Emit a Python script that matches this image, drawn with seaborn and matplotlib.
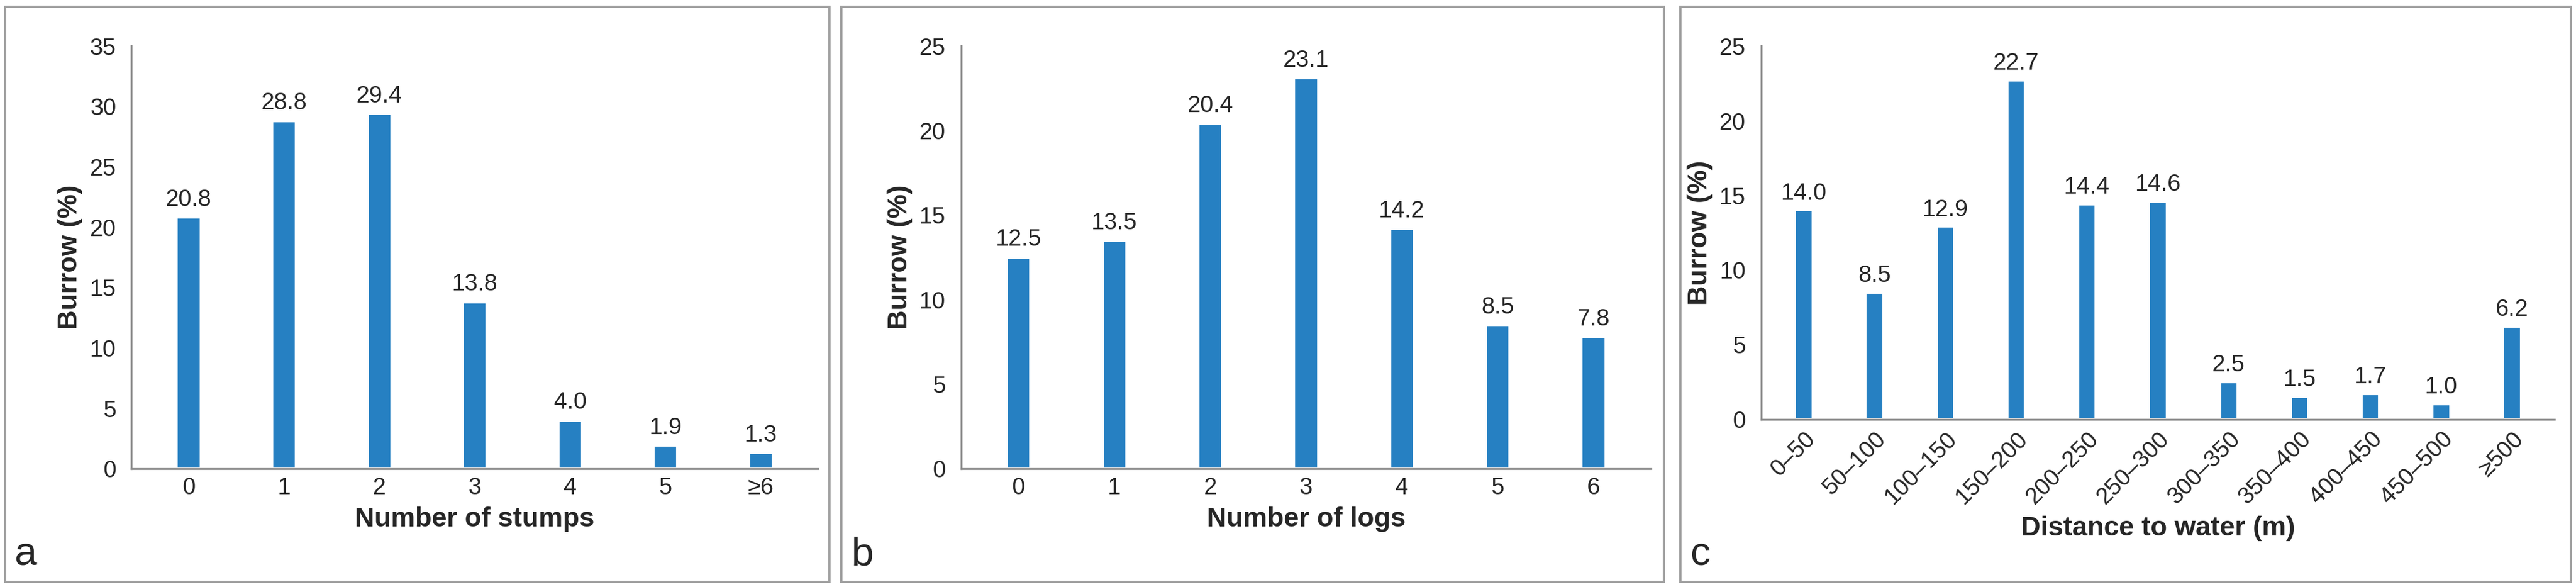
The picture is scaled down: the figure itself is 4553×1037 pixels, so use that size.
import matplotlib
matplotlib.use("Agg")
import matplotlib.pyplot as plt
from matplotlib.patches import Rectangle
import seaborn as sns
import pandas as pd

stumps_labels = ['0', '1', '2', '3', '4', '5', '≥6']
stumps_values = [20.8, 28.8, 29.4, 13.8, 4.0, 1.9, 1.3]

logs_labels = ['0', '1', '2', '3', '4', '5', '6']
logs_values = [12.5, 13.5, 20.4, 23.1, 14.2, 8.5, 7.8]

water_labels = ['0–50', '50–100', '100–150', '150–200', '200–250', '250–300',
                '300–350', '350–400', '400–450', '450–500', '≥500']
water_values = [14.0, 8.5, 12.9, 22.7, 14.4, 14.6, 2.5, 1.5, 1.7, 1.0, 6.2]

sns.set_style("white")
plt.rcParams['font.family'] = ['Liberation Sans', 'DejaVu Sans']

W, H = 1568, 357
fig = plt.figure(figsize=(4553 / 300, 1037 / 300), dpi=300)

bar_color = '#2680c2'
panels = [
    (stumps_labels, stumps_values, 'Number of stumps', 35, 5, 'a', (80, 498, 28, 285), (3, 505)),
    (logs_labels, logs_values, 'Number of logs', 25, 5, 'b', (585, 1005, 28, 285), (512, 1013)),
    (water_labels, water_values, 'Distance to water (m)', 25, 5, 'c', (1072, 1555, 28, 255), (1023, 1565)),
]

for labels, values, xlabel, ymax, step, letter, (l, r, t, b), (bl, br) in panels:
    fig.patches.append(Rectangle((bl / W, 3 / H), (br - bl) / W, (353 - 3) / H,
                                 transform=fig.transFigure, fill=False,
                                 edgecolor='#a0a0a0', linewidth=1.0))
    ax = fig.add_axes([l / W, 1 - b / H, (r - l) / W, (b - t) / H])
    df = pd.DataFrame({'cat': labels, 'val': values})
    sns.barplot(data=df, x='cat', y='val', color=bar_color, saturation=1,
                width=0.25, ax=ax)
    for i, v in enumerate(values):
        ax.text(i, v + ymax * 0.015, f'{v:.1f}', ha='center', va='bottom', fontsize=10)
    ax.set_ylim(0, ymax)
    ax.set_yticks(range(0, ymax + 1, step))
    ax.set_xlim(-0.6, len(labels) - 0.4)
    ax.set_ylabel('Burrow (%)', fontsize=11.5, fontweight='bold', labelpad=3)
    ax.set_xlabel(xlabel, fontsize=11.5, fontweight='bold', labelpad=3)
    ax.tick_params(axis='both', labelsize=10, length=3, color='#888888', direction='out')
    ax.tick_params(axis='x', length=0)
    for s in ['top', 'right']:
        ax.spines[s].set_visible(False)
    for s in ['left', 'bottom']:
        ax.spines[s].set_color('#888888')
        ax.spines[s].set_linewidth(0.8)
    if letter == 'c':
        plt.setp(ax.get_xticklabels(), rotation=45, ha='right', rotation_mode='anchor')
    fig.text((bl + 6) / W, 8 / H, letter, fontsize=17, ha='left', va='bottom')

fig.savefig('out.png', dpi=300)
